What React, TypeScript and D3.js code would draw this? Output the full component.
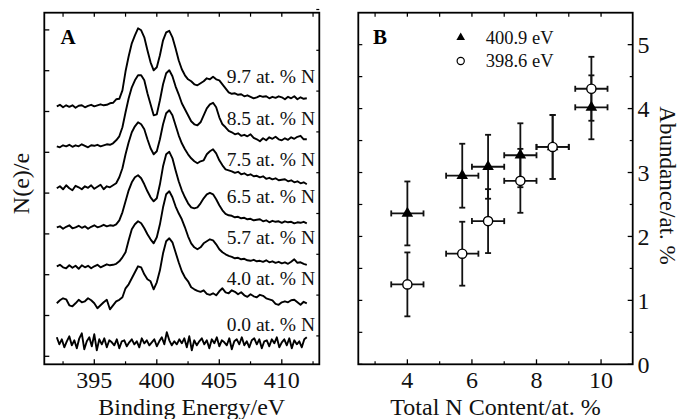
import React from "react";
import * as d3 from "d3";

// ---------- Panel A data (N 1s spectra, arbitrary units) ----------
const energies = d3.range(392, 412.001, 0.25);
const energies00 = d3.range(392, 412.001, 0.2);
const traceLabels = ["0.0 at. % N", "4.0 at. % N", "5.7 at. % N", "6.5 at. % N", "7.5 at. % N", "8.5 at. % N", "9.7 at. % N"];
const traceOffsets = [1.4, 5.3, 9.0, 12.9, 16.8, 21.0, 25.0];
const labelLift = [1.15, 1.8, 2.2, 2.4, 2.2, 2.1, 2.35];

const spec00 = [0.5, -0.2, 0.3, -0.5, 0.1, 0.6, -0.3, 0.2, -0.6, 0.4, 0.9, -0.7, 0.1, 0.5, -0.4, 0.8, -0.8, 0.3, -0.2, 0.4,
  -0.5, 0.2, 0.0, -0.3, 0.3, -0.6, 0.1, 0.2, -0.4, 0.0, 0.3, -0.2, 0.1, -0.5, 0.4, -0.1, 0.2, -0.3, 0.0, 0.3,
  -0.4, 0.1, 0.5, -0.2, 1.0, 0.2, -0.3, 0.1, -0.2, 0.3, -0.1, 0.4, -0.5, 0.6, -0.8, 0.2, -0.3, 0.1, 0.4, -0.2,
  0.2, -0.6, 0.3, -0.1, 0.5, -0.4, 0.2, 0.0, -0.3, 0.4, -0.7, 0.1, 0.3, -0.2, 0.5, -0.3, 0.1, -0.5, 0.2, 0.4,
  -0.2, 0.3, -0.6, 0.1, 0.2, -0.4, 0.3, -0.1, 0.5, -0.5, 0.0, 0.3, -0.3, 0.4, -0.6, 0.2, -0.2, 0.1, -0.5, 0.3, 0.5];
const spec40 = [0, 0.3, 0.5, 0.4, -0.2, -0.3, 0.0, 0.35, 0.1, 0.2, 0.5, 0.3, 0.0, -0.5, -0.2, 0.1, 0.35, -0.6, -0.2, 0.2, 0.35, 0.6, 1.5, 1.9, 2.5, 3.1, 3.7, 3.6, 2.9, 2.4, 2.2, 1.4, 2.1, 3.3, 5.0, 6.2, 6.5, 6.1, 5.1, 4.1, 3.2, 2.6, 2.2, 1.6, 1.4, 1.25, 1.15, 1.3, 0.95, 0.85, 1.0, 0.8, 1.2, 1.5, 1.1, 1.0, 1.3, 1.15, 0.9, 1.1, 0.8, 0.65, 0.9, 0.7, 0.6, 0.85, 0.75, 0.5, 0.4, 0.3, -0.05, -0.15, 0.1, 0.2, 0.1, 0.3, 0.35, 0.1, -0.15, 0.15, 0.0];
const spec57 = [0, 0.15, -0.1, -0.2, 0.1, -0.15, 0.05, -0.25, 0.1, -0.1, 0.05, -0.2, 0, 0.15, -0.1, 0.05, 0.2, 0.1, 0.15, 0.25, 0.5, 0.9, 1.4, 2.6, 3.7, 4.2, 4.5, 4.3, 3.8, 3.2, 2.7, 2.3, 2.9, 4.2, 5.9, 7.2, 7.5, 6.9, 6.0, 5.3, 4.7, 3.9, 3.0, 2.3, 1.9, 1.7, 1.9, 2.3, 2.5, 2.7, 2.6, 2.2, 1.7, 1.4, 1.2, 1.05, 0.95, 0.8, 0.85, 0.7, 0.75, 0.6, 0.55, 0.65, 0.5, 0.55, 0.45, 0.6, 0.4, 0.5, 0.35, 0.45, 0.3, 0.4, 0.25, 0.45, 0.7, 0.35, 0.4, 0.25, 0.15];
const spec65 = [0, 0.1, -0.15, 0.05, 0.2, -0.1, 0, 0.15, -0.05, 0.1, -0.15, 0.05, 0.2, 0, 0.1, 0.25, 0.1, 0.2, 0.15, 0.3, 0.7, 1.5, 2.6, 3.7, 4.5, 5.0, 5.2, 4.9, 4.3, 3.6, 3.0, 2.6, 2.9, 4.3, 6.1, 7.3, 7.55, 6.9, 5.7, 4.6, 3.7, 3.0, 2.4, 2.0, 1.9, 2.0, 2.4, 2.9, 3.3, 3.45, 3.3, 2.8, 2.2, 1.7, 1.35, 1.2, 1.15, 1.0, 1.05, 0.9, 0.95, 0.8, 0.85, 0.7, 0.75, 0.8, 0.6, 0.7, 0.5, 0.65, 0.55, 0.6, 0.45, 0.6, 0.5, 0.55, 0.4, 0.5, 0.45, 0.55, 0.4];
const spec75 = [0, 0.2, -0.1, 0.3, 0, -0.2, 0.25, 0.1, -0.1, 0.2, 0.05, 0.3, -0.05, 0.15, 0.35, -0.1, 0.2, 0.1, 0.3, 0.5, 1.1, 2.0, 3.4, 4.6, 5.6, 6.2, 6.6, 6.4, 5.9, 4.9, 4.0, 3.4, 3.7, 4.9, 6.4, 7.5, 7.8, 7.3, 6.3, 5.3, 4.5, 3.9, 3.4, 3.0, 2.7, 2.5, 2.7, 2.8, 3.4, 3.7, 3.9, 3.5, 2.8, 2.3, 1.9, 1.8, 1.7, 1.55, 1.65, 1.4, 1.5, 1.3, 1.4, 1.2, 1.25, 1.1, 1.2, 0.95, 1.05, 0.9, 1.0, 0.8, 0.85, 0.9, 0.7, 0.8, 0.6, 0.7, 0.5, 0.6, 0.4];
const spec85 = [0, -0.1, 0.1, 0, 0.15, -0.05, 0.1, 0, 0.2, 0.05, -0.1, 0.1, 0.05, 0.15, 0, 0.1, 0.2, 0.15, 0.3, 0.6, 1.0, 1.9, 3.4, 4.8, 5.9, 6.6, 7.1, 7.1, 6.6, 5.3, 4.2, 3.1, 3.2, 4.6, 6.2, 7.3, 7.6, 7.0, 6.0, 5.2, 4.3, 3.7, 3.1, 2.5, 2.2, 2.1, 2.4, 3.1, 3.8, 4.2, 4.35, 3.9, 2.9, 2.2, 1.9, 1.55, 1.4, 1.2, 1.3, 1.05, 1.15, 1.0, 1.2, 0.85, 0.7, 0.5, 0.8, 0.6, 0.9, 0.75, 0.95, 0.7, 0.6, 0.8, 0.65, 0.9, 0.75, 0.95, 1.05, 0.7, 0.7];
const spec97 = [0, 0.15, -0.1, 0.1, -0.05, 0.1, -0.15, 0.05, 0.1, -0.1, 0.05, 0.15, 0, 0.1, 0.2, 0.1, 0.15, 0.3, 0.35, 0.7, 0.75, 1.6, 3.5, 5.0, 6.3, 7.1, 7.8, 7.6, 6.9, 5.6, 4.4, 3.6, 3.9, 5.1, 6.6, 7.4, 7.55, 6.9, 5.8, 4.6, 3.7, 3.1, 2.7, 2.5, 2.2, 2.1, 2.3, 2.5, 2.8, 2.7, 2.95, 2.7, 2.6, 2.2, 1.8, 1.4, 1.25, 1.3, 1.15, 1.2, 1.0, 1.1, 0.95, 0.8, 0.9, 1.05, 0.95, 1.0, 0.8, 0.95, 0.85, 1.0, 0.9, 0.7, 0.95, 0.8, 1.0, 0.7, 0.9, 0.75, 0.8];
const spectra = [spec00, spec40, spec57, spec65, spec75, spec85, spec97];
const grids = [energies00, energies, energies, energies, energies, energies, energies];

const xTicksA = [395, 400, 405, 410];
const xMinorA = [392.5, 397.5, 402.5, 407.5, 412.5];
const yTicksA = [0, 4.08, 8.16, 12.24, 16.32, 20.4, 24.48, 28.56, 32.64];

// ---------- Panel B data ----------
const totalN = [4.0, 5.7, 6.5, 7.5, 8.5, 9.7];
const abund4009 = [2.36, 2.95, 3.09, 3.27, 3.40, 4.02];
const abund3986 = [1.25, 1.73, 2.24, 2.87, 3.40, 4.31];
const xErr = [0.5, 0.5, 0.5, 0.5, 0.5, 0.5];
const yErr = [0.5, 0.5, 0.5, 0.5, 0.5, 0.5];
const xTicksB = [4, 6, 8, 10];
const xMinorB = [3, 5, 7, 9];
const yTicksB = [0, 1, 2, 3, 4, 5];
const yMinorB = [0.5, 1.5, 2.5, 3.5, 4.5];
const legendNames = ["400.9 eV", "398.6 eV"];

const FONT = "'Liberation Serif', 'Times New Roman', Times, serif";

export default function App() {
  const W = 681, H = 419;
  const top = 12.7, bottom = 364.3;

  // Panel A
  const xA = d3.scaleLinear().domain([391, 413]).range([44.3, 319.3]);
  const yA = d3.scaleLinear().domain([-0.8, 34.36]).range([bottom, top]);
  const line = d3.line<[number, number]>().x(d => d[0]).y(d => d[1]);

  // Panel B
  const xB = d3.scaleLinear().domain([2.48, 10.98]).range([358.3, 632.7]);
  const yB = d3.scaleLinear().domain([0, 5.5]).range([bottom, top]);
  const tri = d3.symbol().type(d3.symbolTriangle).size(58)();
  const triLeg = d3.symbol().type(d3.symbolTriangle).size(32)();

  const sw = 1.8;

  return (
    <svg width={W} height={H} style={{ position: "absolute", left: 0, top: 0, background: "#fff" }} fontFamily={FONT}>
      <rect x={0} y={0} width={W} height={H} fill="#fff" />
      {/* ---------------- Panel A ---------------- */}
      <g>
        {spectra.map((s, k) => (
          <path
            key={k}
            d={line(s.map((v, i) => [xA(grids[k][i]), yA(traceOffsets[k] + v)]))!}
            fill="none"
            stroke="#000"
            strokeWidth={1.9}
            strokeLinejoin="round"
          />
        ))}
        {traceLabels.map((t, k) => (
          <text key={k} x={315} y={yA(traceOffsets[k] + labelLift[k])} fontSize={19.5} textAnchor="end" fill="#111">
            {t}
          </text>
        ))}
        <rect x={xA(391)} y={top} width={xA(413) - xA(391)} height={bottom - top} fill="none" stroke="#000" strokeWidth={sw} />
        {xTicksA.map(t => (
          <g key={t}>
            <line x1={xA(t)} x2={xA(t)} y1={bottom} y2={bottom - 5} stroke="#000" strokeWidth={1.3} />
            <line x1={xA(t)} x2={xA(t)} y1={top} y2={top + 4} stroke="#000" strokeWidth={1.3} />
            <text x={xA(t)} y={bottom + 24} fontSize={24} textAnchor="middle" fill="#111">{t}</text>
          </g>
        ))}
        {xMinorA.filter(t => t < 413).map(t => (
          <g key={t}>
            <line x1={xA(t)} x2={xA(t)} y1={bottom} y2={bottom - 3} stroke="#000" strokeWidth={1.2} />
            <line x1={xA(t)} x2={xA(t)} y1={top} y2={top + 4} stroke="#000" strokeWidth={1.2} />
          </g>
        ))}
        {yTicksA.map(t => (
          <g key={t}>
            <line x1={xA(391)} x2={xA(391) + 5} y1={yA(t)} y2={yA(t)} stroke="#000" strokeWidth={1.3} />
            <line x1={xA(413)} x2={xA(413) - 3} y1={yA(t + 2.04)} y2={yA(t + 2.04)} stroke="#000" strokeWidth={1.2} />
          </g>
        ))}
        <text x={60.5} y={44} fontSize={21} fontWeight="bold" fill="#000">A</text>
        <text x={191.7} y={415} fontSize={24} textAnchor="middle" fill="#111">Binding Energy/eV</text>
        <text transform={`translate(29,${(top + bottom) / 2 - 5}) rotate(-90)`} fontSize={24} textAnchor="middle" fill="#111">N(e)/e</text>
      </g>

      {/* ---------------- Panel B ---------------- */}
      <g>
        <rect x={xB.range()[0]} y={top} width={xB.range()[1] - xB.range()[0]} height={bottom - top} fill="none" stroke="#000" strokeWidth={sw} />
        {xTicksB.map(t => (
          <g key={t}>
            <line x1={xB(t)} x2={xB(t)} y1={bottom} y2={bottom - 5} stroke="#000" strokeWidth={1.3} />
            <line x1={xB(t)} x2={xB(t)} y1={top} y2={top + 4} stroke="#000" strokeWidth={1.3} />
            <text x={xB(t)} y={bottom + 24} fontSize={24} textAnchor="middle" fill="#111">{t}</text>
          </g>
        ))}
        {xMinorB.map(t => (
          <g key={t}>
            <line x1={xB(t)} x2={xB(t)} y1={bottom} y2={bottom - 3} stroke="#000" strokeWidth={1.2} />
            <line x1={xB(t)} x2={xB(t)} y1={top} y2={top + 4} stroke="#000" strokeWidth={1.2} />
          </g>
        ))}
        {yTicksB.map(t => (
          <g key={t}>
            <line x1={xB.range()[1]} x2={xB.range()[1] - 5} y1={yB(t)} y2={yB(t)} stroke="#000" strokeWidth={1.3} />
            <line x1={xB.range()[0]} x2={xB.range()[0] + 4} y1={yB(t)} y2={yB(t)} stroke="#000" strokeWidth={1.2} />
            <text x={637.5} y={yB(t)} dy="0.35em" fontSize={24} fill="#111">{t}</text>
          </g>
        ))}
        {yMinorB.map(t => (
          <g key={t}>
            <line x1={xB.range()[1]} x2={xB.range()[1] - 3} y1={yB(t)} y2={yB(t)} stroke="#000" strokeWidth={1.2} />
            <line x1={xB.range()[0]} x2={xB.range()[0] + 4} y1={yB(t)} y2={yB(t)} stroke="#000" strokeWidth={1.2} />
          </g>
        ))}

        {/* error bars */}
        {[abund4009, abund3986].map((ser, s) => (
          <g key={s}>
            {totalN.map((x, i) => {
              const cx = xB(x), cy = yB(ser[i]);
              const y1 = yB(ser[i] + yErr[i]), y2 = yB(ser[i] - yErr[i]);
              const x1 = xB(x - xErr[i]), x2 = xB(x + xErr[i]);
              return (
                <g key={i} stroke="#111" strokeWidth={1.8}>
                  <line x1={cx} x2={cx} y1={y1} y2={y2} />
                  <line x1={cx - 3} x2={cx + 3} y1={y1} y2={y1} />
                  <line x1={cx - 3} x2={cx + 3} y1={y2} y2={y2} />
                  <line x1={x1} x2={x2} y1={cy} y2={cy} />
                  <line x1={x1} x2={x1} y1={cy - 3} y2={cy + 3} />
                  <line x1={x2} x2={x2} y1={cy - 3} y2={cy + 3} />
                </g>
              );
            })}
          </g>
        ))}
        {totalN.map((x, i) => (
          <path key={"t" + i} d={tri!} transform={`translate(${xB(x)},${yB(abund4009[i])})`} fill="#000" />
        ))}
        {totalN.map((x, i) => (
          <circle key={"c" + i} cx={xB(x)} cy={yB(abund3986[i])} r={4.6} fill="#fff" stroke="#000" strokeWidth={1.4} />
        ))}

        {/* legend */}
        <path d={triLeg!} transform="translate(460.7,37.5)" fill="#000" />
        <text x={485.7} y={43.5} fontSize={18.5} fill="#111">{legendNames[0]}</text>
        <circle cx={460.7} cy={61} r={3.6} fill="#fff" stroke="#000" strokeWidth={1.2} />
        <text x={485.7} y={67} fontSize={18.5} fill="#111">{legendNames[1]}</text>

        <text x={373} y={43.5} fontSize={21} fontWeight="bold" fill="#000">B</text>
        <text x={495.5} y={415} fontSize={24} textAnchor="middle" fill="#111">Total N Content/at. %</text>
        <text transform={`translate(660,${(top + bottom) / 2 - 3}) rotate(90)`} fontSize={23} textAnchor="middle" fill="#111">Abundance/at. %</text>
      </g>
    </svg>
  );
}
